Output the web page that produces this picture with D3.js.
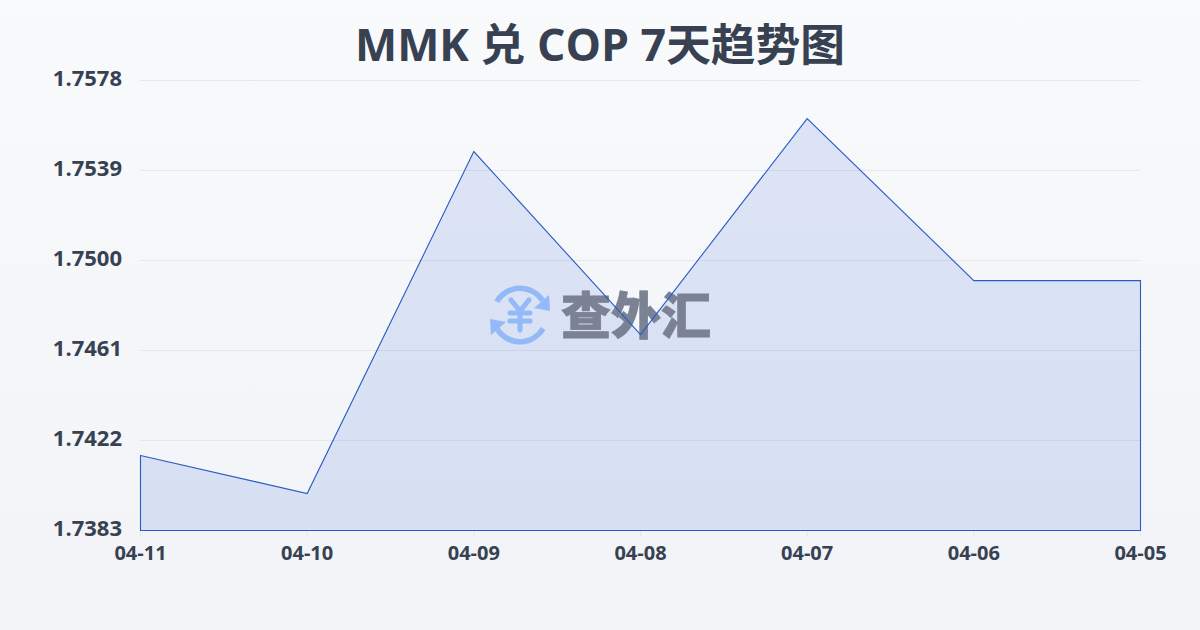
<!DOCTYPE html>
<html><head><meta charset="utf-8">
<script src="https://cdn.jsdelivr.net/npm/d3@7/dist/d3.min.js"></script>
<style>html,body{margin:0;padding:0;background:#f8f9fa}svg{display:block}
text{font-family:"Open Sans","Noto Sans CJK SC",sans-serif}</style>
</head><body><svg id="c" width="1200" height="630"></svg>
<script>
const titleText = "MMK 兑 COP 7天趋势图";
const dates = ["04-11","04-10","04-09","04-08","04-07","04-06","04-05"];
const rates = [1.74155,1.7399,1.75472,1.74679,1.75615,1.74913,1.74913];
const yTicks = [1.7578,1.7539,1.7500,1.7461,1.7422,1.7383];
const watermark = "查外汇";

const svg = d3.select("#c");
const defs = svg.append("defs");
const bg = defs.append("linearGradient").attr("id","bg").attr("x1",0).attr("y1",0).attr("x2",0).attr("y2",1);
bg.append("stop").attr("offset","0%").attr("stop-color","#f8fafc");
bg.append("stop").attr("offset","100%").attr("stop-color","#f1f3f6");
svg.append("rect").attr("width",1200).attr("height",630).attr("fill","url(#bg)");

const x = d3.scalePoint().domain(dates).range([140.5,1140.5]);
const y = d3.scaleLinear().domain([1.7383,1.7578]).range([530.5,80.5]);

svg.append("text").attr("x",600).attr("y",61).attr("text-anchor","middle")
  .attr("font-size",44.7).attr("font-weight",700).attr("fill","#374151").text(titleText);

svg.append("g").selectAll("line").data(yTicks).join("line")
  .attr("x1",140).attr("x2",1140).attr("y1",d=>y(d)).attr("y2",d=>y(d))
  .attr("stroke","#e5e7eb").attr("stroke-width",1);

svg.append("g").selectAll("line").data(dates).join("line")
  .attr("x1",d=>x(d)).attr("x2",d=>x(d)).attr("y1",530).attr("y2",536)
  .attr("stroke","#e5e7eb");

svg.append("g").selectAll("text").data(yTicks).join("text")
  .attr("x",122).attr("y",d=>y(d)+5).attr("text-anchor","end")
  .attr("font-size",22).attr("font-weight",700).attr("fill","#374151")
  .text(d=>d.toFixed(4));

svg.append("g").selectAll("text").data(dates).join("text")
  .attr("x",d=>x(d)).attr("y",560).attr("text-anchor","middle")
  .attr("font-size",20).attr("font-weight",700).attr("fill","#374151").text(d=>d);

const area = d3.area().x((d,i)=>x(dates[i])).y0(y(1.7383)).y1(d=>y(d));
svg.append("path").datum(rates).attr("d",area).attr("fill","#2457d8").attr("fill-opacity",0.13);

// watermark logo
const wm = svg.append("g").attr("transform","translate(520,315)");
const blue = "#93b9f8";
const arc = d3.arc().innerRadius(24).outerRadius(29.5);
wm.append("path").attr("d",arc({startAngle:-1.05,endAngle:1.0})).attr("fill",blue);
wm.append("path").attr("d",arc({startAngle:2.1,endAngle:4.15})).attr("fill",blue);
wm.append("path").attr("d","M30,-4 L14,-7 L29,-20 Z").attr("fill",blue);
wm.append("path").attr("d","M-30,4 L-14,7 L-29,20 Z").attr("fill",blue);
wm.append("path").attr("d","M-9,-15 L0,-4 L9,-15 M-10,-2 H10 M-10,6 H10 M0,-4 V15")
  .attr("fill","none").attr("stroke",blue).attr("stroke-width",5).attr("stroke-linecap","round").attr("stroke-linejoin","round");
svg.append("text").attr("x",636).attr("y",334).attr("text-anchor","middle")
  .attr("font-size",50).attr("font-weight",900).attr("fill","#7a8294")
  .attr("stroke","#7a8294").attr("stroke-width",.8).text(watermark);

const line = d3.line().x((d,i)=>x(dates[i])).y(d=>y(d));
svg.append("path").datum(rates)
  .attr("d",d=>line(d)+`L${x(dates[6])},${y(1.7383)}L${x(dates[0])},${y(1.7383)}Z`)
  .attr("fill","none").attr("stroke","#2a5bc4").attr("stroke-width",1.1);
</script></body></html>
